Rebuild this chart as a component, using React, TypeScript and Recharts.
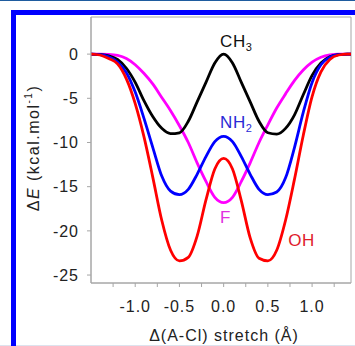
import React from 'react';
import { LineChart, Line, XAxis, YAxis, ReferenceArea, ReferenceDot } from 'recharts';

// Δ(A-Cl) stretch (Å)
const stretch = [-1.5, -1.4, -1.3, -1.2, -1.1, -1.0, -0.9, -0.8, -0.7, -0.6, -0.5, -0.4, -0.3, -0.2, -0.1, 0,
  0.1, 0.2, 0.3, 0.4, 0.5, 0.6, 0.7, 0.8, 0.9, 1.0, 1.1, 1.2, 1.3, 1.4, 1.44];

// ΔE (kcal/mol) for each substituent
const ch3 = [0, -0.05, -0.2, -0.6, -1.6, -3.2, -5.3, -7.1, -8.4, -9.0, -8.9, -7.6, -5.4, -3.2, -1.0, 0,
  -1.0, -3.2, -5.4, -7.6, -8.9, -9.05, -8.4, -6.9, -4.6, -2.4, -1.0, -0.3, -0.05, 0, 0];
const nh2 = [0, -0.05, -0.3, -0.9, -2.1, -4.3, -7.3, -10.6, -13.8, -15.5, -15.9, -15.3, -13.6, -11.6, -9.9, -9.3,
  -9.9, -11.6, -13.6, -15.3, -15.9, -15.6, -14.0, -10.6, -6.6, -3.2, -1.2, -0.35, -0.05, 0, 0];
const oh = [0, -0.1, -0.5, -1.1, -2.8, -5.6, -9.4, -14.0, -18.8, -22.2, -23.4, -23.0, -20.6, -16.5, -13.0, -11.8,
  -13.0, -16.6, -20.8, -23.1, -23.4, -22.2, -18.8, -14.2, -9.2, -4.8, -2.0, -0.6, -0.1, 0, 0];
const f = [0, 0, -0.03, -0.15, -0.5, -1.2, -2.2, -3.4, -4.9, -6.4, -8.1, -10.0, -12.3, -14.4, -16.2, -16.8,
  -16.2, -14.4, -12.3, -10.0, -8.0, -6.1, -4.5, -3.0, -1.8, -0.9, -0.35, -0.08, 0, 0, 0];

const xTicks = [-1.25, -1.0, -0.75, -0.5, -0.25, 0, 0.25, 0.5, 0.75, 1.0, 1.25];
const yTicks = [-25, -20, -15, -10, -5, 0];
const xDomain = [-1.5, 1.44];
const yDomain = [-25.9, 4.2];

// curve labels: main text, subscript, anchor (data coords), colour
const curveLabels = [
  { main: 'CH', sub: '3', x: -0.04, y: 0.8, color: '#111111' },
  { main: 'NH', sub: '2', x: -0.04, y: -8.4, color: '#2a2ad6' },
  { main: 'F', sub: '', x: -0.04, y: -19.1, color: '#e030e0' },
  { main: 'OH', sub: '', x: 0.73, y: -21.7, color: '#e0202a' },
];

const data = stretch.map((x, i) => ({ x, ch3: ch3[i], nh2: nh2[i], oh: oh[i], f: f[i] }));

const FONT = "Arial, 'Liberation Sans', sans-serif";
const AXIS = '#a6a6a6';

const fmtX = (v: number) => (Math.abs(v * 2 - Math.round(v * 2)) < 1e-6 ? v.toFixed(1) : '');

export default function App() {
  return (
    <div style={{ position: 'absolute', left: 0, top: 0, width: 355, height: 346, overflow: 'hidden', background: '#fff' }}>
      <div style={{ position: 'absolute', left: 0, top: 0, width: 355, height: 1, background: '#1f5c9f' }} />
      <div style={{ position: 'absolute', left: 0, top: 345, width: 355, height: 1, background: '#dde3ee' }} />
      <div style={{ position: 'absolute', left: 11, top: 10, width: 400, height: 400, borderLeft: '5px solid #0000ff', borderTop: '5px solid #0000ff' }} />
      <div style={{ position: 'absolute', left: 0, top: 0 }}>
        <LineChart width={355} height={346} data={data} margin={{ top: 17, right: 4, bottom: 0, left: 0 }}>
          <ReferenceArea x1={xDomain[0]} x2={xDomain[1]} y1={yDomain[0]} y2={yDomain[1]} fill="none" stroke={AXIS} strokeWidth={1} ifOverflow="visible" />
          <XAxis
            dataKey="x"
            type="number"
            domain={xDomain}
            ticks={xTicks}
            interval={0}
            tickFormatter={fmtX}
            allowDataOverflow
            height={63}
            tickSize={4}
            tickMargin={14}
            axisLine={{ stroke: AXIS }}
            tickLine={{ stroke: AXIS }}
            tick={{ fill: '#222', fontSize: 16, fontFamily: FONT, letterSpacing: 1 }}
            label={{
              content: (p: any) => {
                const vb = p.viewBox;
                return (
                  <text x={vb.x + vb.width / 2 + 3} y={vb.y + 58} textAnchor="middle" fill="#222" fontSize={16} fontFamily={FONT} letterSpacing={1}>
                    Δ(A-Cl) stretch (Å)
                  </text>
                );
              },
            }}
          />
          <YAxis
            type="number"
            domain={yDomain}
            ticks={yTicks}
            interval={0}
            allowDataOverflow
            width={91}
            tickSize={4}
            tickMargin={8}
            axisLine={{ stroke: AXIS }}
            tickLine={{ stroke: AXIS }}
            tick={{ fill: '#222', fontSize: 16, fontFamily: FONT, letterSpacing: 1 }}
            label={{
              content: (p: any) => {
                const vb = p.viewBox;
                const cx = 39;
                const cy = vb.y + vb.height / 2 - 2;
                return (
                  <text x={cx} y={cy} transform={`rotate(-90 ${cx} ${cy})`} textAnchor="middle" fill="#222" fontSize={16} fontFamily={FONT} letterSpacing={1.5}>
                    Δ<tspan fontStyle="italic">E</tspan> (kcal.mol<tspan fontSize={10} dy={-7}>-1</tspan><tspan dy={7}>)</tspan>
                  </text>
                );
              },
            }}
          />
          <Line type="monotone" dataKey="f" stroke="#ff00ff" strokeWidth={2.8} dot={false} isAnimationActive={false} />
          <Line type="monotone" dataKey="ch3" stroke="#000000" strokeWidth={2.8} dot={false} isAnimationActive={false} />
          <Line type="monotone" dataKey="nh2" stroke="#0000ff" strokeWidth={2.8} dot={false} isAnimationActive={false} />
          <Line type="monotone" dataKey="oh" stroke="#ff0000" strokeWidth={2.8} dot={false} isAnimationActive={false} />
          {curveLabels.map((l) => (
            <ReferenceDot
              key={l.main}
              x={l.x}
              y={l.y}
              r={0}
              fill="none"
              stroke="none"
              ifOverflow="visible"
              label={{
                content: (p: any) => {
                  const vb = p.viewBox;
                  return (
                    <text x={vb.x} y={vb.y} textAnchor="start" fill={l.color} fontSize={17} fontFamily={FONT} letterSpacing={0.5}>
                      {l.main}
                      {l.sub ? <tspan fontSize={11} dy={4}>{l.sub}</tspan> : null}
                    </text>
                  );
                },
              }}
            />
          ))}
        </LineChart>
      </div>
    </div>
  );
}
